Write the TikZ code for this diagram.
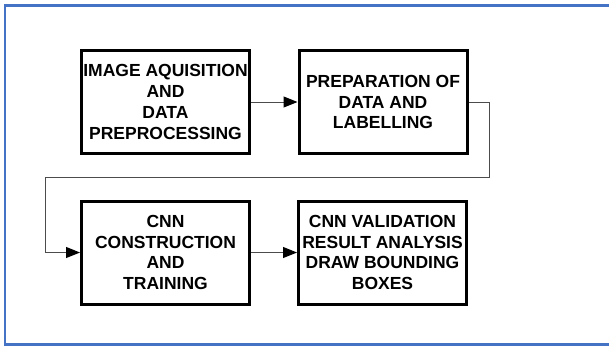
\documentclass[tikz,border=0pt]{standalone}
\usepackage{fontspec}
\setmainfont{Liberation Sans}
\usetikzlibrary{arrows.meta}
\definecolor{frameblue}{HTML}{4472C4}
\begin{document}
\begin{tikzpicture}[x=1pt, y=-1pt]
    \tikzstyle{stage} = [draw=black, line width=3pt, minimum width=168pt, minimum height=103pt, inner sep=0pt, align=center, font=\bfseries\fontsize{17.5}{20.7}\selectfont]
    \tikzstyle{link} = [draw=black!70, line width=1pt, -{Triangle[length=14pt, width=11pt, black]}]

    \useasboundingbox (0, 0) rectangle (609, 346);
    \draw[frameblue, line width=2.5pt] (609, 5.5) -- (5, 5.5) -- (5, 344.5) -- (609, 344.5);

    \node[stage] (acq) at (165.5, 102) {IMAGE AQUISITION\\AND\\DATA\\PREPROCESSING};
    \node[stage] (prep) at (383, 102) {PREPARATION OF\\DATA AND\\LABELLING};
    \node[stage] (cnn) at (165.5, 252.5) {CNN\\CONSTRUCTION\\AND\\TRAINING};
    \node[stage] (valid) at (382.5, 252.5) {CNN VALIDATION\\RESULT ANALYSIS\\DRAW BOUNDING\\BOXES};

    \coordinate (turnA) at (489, 177);
    \coordinate (turnB) at (45, 177);

    \draw[link] (acq) -- (prep);
    \draw[link] (prep.east) -| (turnA) -- (turnB) |- (cnn.west);
    \draw[link] (cnn) -- (valid);
\end{tikzpicture}
\end{document}
